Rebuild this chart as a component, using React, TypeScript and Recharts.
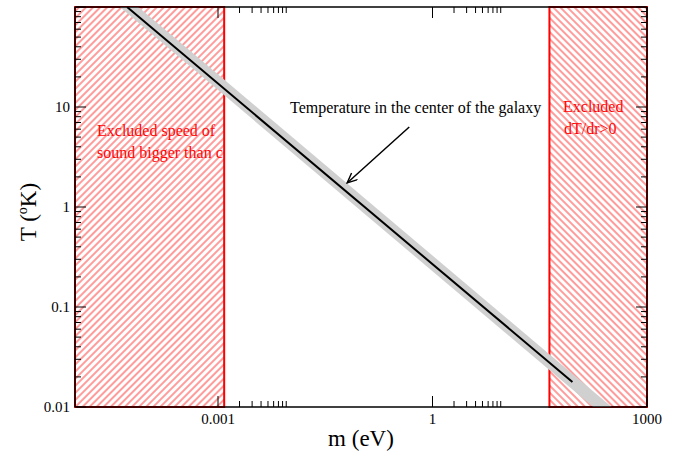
import React from "react";
import { ComposedChart, Line, XAxis, YAxis, ReferenceArea, ReferenceLine } from "recharts";

// m (eV) / T (K)
const curveM = [5.35e-5, 90.6];
const curveT = [100, 0.0178];
// grey band runs past the frame on both ends and is clipped there
const bandM = [2.98e-5, 392];
const bandT = [148, 0.0074];

const xMajor = [0.001, 1, 1000];
const xMajorLabels = ["0.001", "1", "1000"];
const xMinor = [0.002, 0.003, 0.004, 0.005, 0.006, 0.007, 0.008, 0.009, 2, 3, 4, 5, 6, 7, 8, 9];

const yMajor = [0.01, 0.1, 1, 10, 100];
const yMajorLabels = ["0.01", "0.1", "1", "10", ""];
const yMinor = [
  0.02, 0.03, 0.04, 0.05, 0.06, 0.07, 0.08, 0.09,
  0.2, 0.3, 0.4, 0.5, 0.6, 0.7, 0.8, 0.9,
  2, 3, 4, 5, 6, 7, 8, 9,
  20, 30, 40, 50, 60, 70, 80, 90,
];

const excludedLow = [1e-5, 0.00122];
const excludedHigh = [43.2, 1000];
const arrowFrom = [0.473, 6.3];
const arrowTo = [0.064, 1.74];

const curve = curveM.map((m, i) => ({ m, t: curveT[i] }));
const band = bandM.map((m, i) => ({ m, t: bandT[i] }));

const FONT = "'Liberation Serif', 'Times New Roman', serif";
const RED = "#ff0000";

function XTick(props: any) {
  const { x, y, payload, top } = props;
  const i = xMajor.indexOf(payload.value);
  const len = i >= 0 ? 11 : 6;
  return (
    <g>
      <line x1={x} x2={x} y1={y} y2={top ? y + len : y - len} stroke="#000" strokeWidth={1} />
      {!top && i >= 0 && (
        <text x={x} y={y + 17} textAnchor="middle" fontSize={15} fontFamily={FONT} fill="#000">
          {xMajorLabels[i]}
        </text>
      )}
    </g>
  );
}

function YTick(props: any) {
  const { x, y, payload, right } = props;
  const i = yMajor.indexOf(payload.value);
  const len = i >= 0 ? 11 : 6;
  return (
    <g>
      <line x1={x} x2={right ? x - len : x + len} y1={y} y2={y} stroke="#000" strokeWidth={1} />
      {!right && i >= 0 && (
        <text x={x - 5} y={y} dy="0.35em" textAnchor="end" fontSize={15} fontFamily={FONT} fill="#000">
          {yMajorLabels[i]}
        </text>
      )}
    </g>
  );
}

export default function App() {
  const xTicks = [...xMajor, ...xMinor].sort((a, b) => a - b);
  const yTicks = [...yMajor, ...yMinor].sort((a, b) => a - b);
  return (
    <div style={{ position: "absolute", left: 0, top: 0, width: 678, height: 451, background: "#fff" }}>
      <ComposedChart width={678} height={451} margin={{ top: 0, right: 0, bottom: 0, left: 0 }}>
        <defs>
          <pattern id="redSlash" patternUnits="userSpaceOnUse" width={5} height={5} patternTransform="rotate(45)">
            <line x1={1} y1={-1} x2={1} y2={6} stroke="#ff2020" strokeWidth={0.9} />
          </pattern>
          <pattern id="redBackslash" patternUnits="userSpaceOnUse" width={5} height={5} patternTransform="rotate(-45)">
            <line x1={1} y1={-1} x2={1} y2={6} stroke="#ff2020" strokeWidth={0.9} />
          </pattern>
          <marker id="arrowHead" markerUnits="userSpaceOnUse" markerWidth={14} markerHeight={14} refX={11} refY={5} orient="auto">
            <path d="M1,0.5 L11,5 L1,9.5" fill="none" stroke="#000" strokeWidth={1.4} />
          </marker>
        </defs>

        <XAxis
          xAxisId={0}
          dataKey="m"
          type="number"
          scale="log"
          domain={[1e-5, 1000]}
          allowDataOverflow
          ticks={xTicks}
          interval={0}
          height={44}
          tickSize={0}
          tickMargin={0}
          tickLine={false}
          axisLine={{ stroke: "#000", strokeWidth: 1.5 }}
          tick={<XTick />}
        />
        <XAxis
          xAxisId="top"
          orientation="top"
          dataKey="m"
          type="number"
          scale="log"
          domain={[1e-5, 1000]}
          allowDataOverflow
          ticks={xTicks}
          interval={0}
          height={7}
          tickSize={0}
          tickMargin={0}
          tickLine={false}
          axisLine={{ stroke: "#000", strokeWidth: 1.5 }}
          tick={<XTick top />}
        />
        <YAxis
          yAxisId={0}
          type="number"
          scale="log"
          domain={[0.01, 100]}
          allowDataOverflow
          ticks={yTicks}
          interval={0}
          width={75}
          tickSize={0}
          tickMargin={0}
          tickLine={false}
          axisLine={{ stroke: "#000", strokeWidth: 1.5 }}
          tick={<YTick />}
        />
        <YAxis
          yAxisId="right"
          orientation="right"
          type="number"
          scale="log"
          domain={[0.01, 100]}
          allowDataOverflow
          ticks={yTicks}
          interval={0}
          width={31}
          tickSize={0}
          tickMargin={0}
          tickLine={false}
          axisLine={{ stroke: "#000", strokeWidth: 1.5 }}
          tick={<YTick right />}
        />

        <ReferenceArea
          x1={excludedLow[0]}
          x2={excludedLow[1]}
          y1={0.01}
          y2={100}
          fill="url(#redSlash)"
          fillOpacity={1}
          stroke={RED}
          strokeWidth={2}
        />
        <ReferenceArea
          x1={excludedHigh[0]}
          x2={excludedHigh[1]}
          y1={0.01}
          y2={100}
          fill="url(#redBackslash)"
          fillOpacity={1}
          stroke={RED}
          strokeWidth={2}
        />

        <Line
          data={band}
          dataKey="t"
          type="linear"
          stroke="#d0d0d0"
          strokeWidth={12}
          dot={false}
          activeDot={false}
          isAnimationActive={false}
        />
        <Line
          data={curve}
          dataKey="t"
          type="linear"
          stroke="#000"
          strokeWidth={2}
          dot={false}
          activeDot={false}
          isAnimationActive={false}
        />

        <ReferenceLine
          segment={[
            { x: arrowFrom[0], y: arrowFrom[1] },
            { x: arrowTo[0], y: arrowTo[1] },
          ]}
          shape={(p: any) => (
            <line x1={p.x1} y1={p.y1} x2={p.x2} y2={p.y2} stroke="#000" strokeWidth={1.5} markerEnd="url(#arrowHead)" />
          )}
        />

        <text x={290} y={113} fontSize={16} fontFamily={FONT} fill="#000">
          Temperature in the center of the galaxy
        </text>
        <text x={97} y={136} fontSize={16} fontFamily={FONT} fill={RED}>
          Excluded speed of
        </text>
        <text x={97} y={158} fontSize={16} fontFamily={FONT} fill={RED}>
          sound bigger than c
        </text>
        <text x={563} y={112} fontSize={16} fontFamily={FONT} fill={RED}>
          Excluded
        </text>
        <text x={564} y={134} fontSize={16} fontFamily={FONT} fill={RED}>
          dT/dr&gt;0
        </text>

        <text x={361} y={446} textAnchor="middle" fontSize={23} fontFamily={FONT} fill="#000">
          m (eV)
        </text>
        <text x={36} y={212} transform="rotate(-90, 36, 212)" textAnchor="middle" fontSize={23} fontFamily={FONT} fill="#000">
          T (<tspan dy={-9} fontSize={14}>o</tspan>
          <tspan dy={9}>K)</tspan>
        </text>
      </ComposedChart>
    </div>
  );
}
